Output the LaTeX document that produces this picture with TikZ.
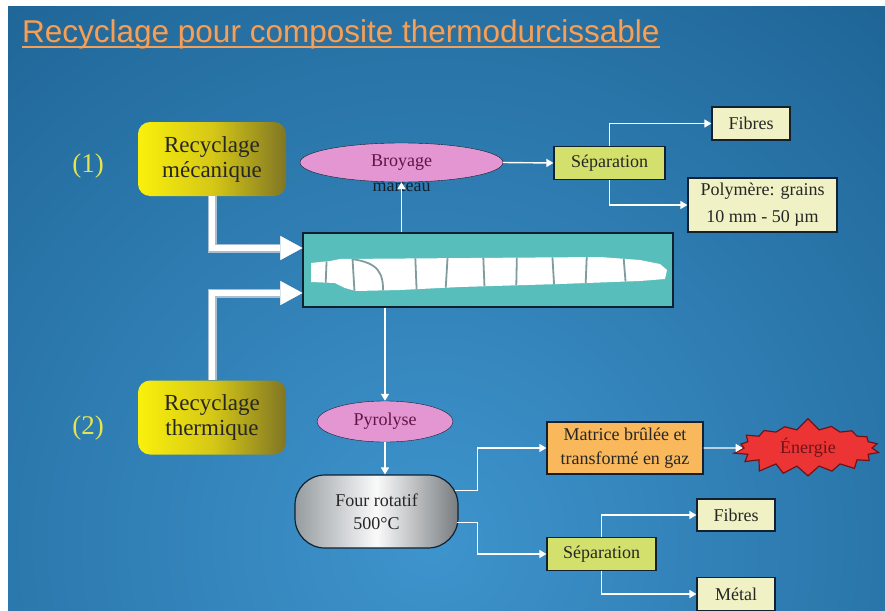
\documentclass[tikz,border=0pt]{standalone}
\usepackage{fontspec}
\setmainfont{Liberation Serif}
\newfontfamily\titlefont{Liberation Sans}
\usetikzlibrary{shapes.geometric,shapes.symbols,arrows.meta}

\definecolor{slide}{RGB}{22,88,135}
\definecolor{slidelight}{RGB}{62,148,205}
\definecolor{titleor}{RGB}{244,160,88}
\definecolor{numyel}{RGB}{228,228,78}
\definecolor{edge}{RGB}{18,32,48}
\definecolor{recyyel}{RGB}{250,240,12}
\definecolor{recymid}{RGB}{214,200,22}
\definecolor{recyolive}{RGB}{128,118,36}
\definecolor{lavpink}{RGB}{228,150,210}
\definecolor{plum}{RGB}{95,20,70}
\definecolor{bladebg}{RGB}{88,190,188}
\definecolor{cutgray}{RGB}{128,156,158}
\definecolor{sepgreen}{RGB}{212,224,108}
\definecolor{prodcream}{RGB}{240,241,196}
\definecolor{matorange}{RGB}{250,184,92}
\definecolor{burst}{RGB}{236,52,52}
\definecolor{burstedge}{RGB}{110,20,25}
\definecolor{fatedge}{RGB}{170,190,210}
\definecolor{steel}{RGB}{150,156,160}

\begin{document}
\begin{tikzpicture}[x=1pt, y=-1pt,
  font=\fontsize{18}{22}\selectfont,
  recy/.style={rounded corners=12pt, left color=recyyel, right color=recyolive,
    middle color=recymid, minimum width=148pt, minimum height=74pt,
    align=center, text=black!85, font=\fontsize{23}{25}\selectfont},
  proc/.style={ellipse, draw=edge, fill=lavpink, text=plum, inner sep=0pt},
  sepbox/.style={draw=edge, line width=1.2pt, fill=sepgreen, text=black!85,
    minimum height=33pt},
  prod/.style={draw=edge, line width=1.2pt, fill=prodcream, text=black!85,
    align=center},
  flow/.style={draw=white, line width=1.4pt, -{Triangle[length=7pt,width=8pt]}},
  fatline/.style={draw=fatedge, line width=9pt,
    -{Triangle[length=22pt,width=24pt,line width=0.1pt]}},
  fatcore/.style={draw=white, line width=5.5pt,
    -{Triangle[length=22pt,width=24pt,line width=0.1pt]}}]
  \useasboundingbox (0,0) rectangle (885,610);

  % Slide background
  \fill[white] (0,0) rectangle (885,610);
  \fill[slide] (8,7) rectangle (885,610);
  \begin{scope}
    \clip (8,7) rectangle (885,610);
    \shade[inner color=slidelight, outer color=slide] (430,540) circle (900pt);
  \end{scope}

  % Title
  \node[anchor=base west, inner sep=0pt, text=black!60, opacity=0.5,
    font=\titlefont\fontsize{31.5}{36}\selectfont] at (23.5,43.5)
    {Recyclage pour composite thermodurcissable};
  \node[anchor=base west, inner sep=0pt, text=titleor,
    font=\titlefont\fontsize{31.5}{36}\selectfont] (title) at (22,42)
    {Recyclage pour composite thermodurcissable};
  \draw[titleor, line width=1.6pt] ([yshift=-5pt]title.base west) -- ([yshift=-5pt]title.base east);

  % Two recycling routes
  \node[text=numyel, font=\fontsize{27}{30}\selectfont] (n1) at (88,166) {(1)};
  \node[text=numyel, font=\fontsize{27}{30}\selectfont] (n2) at (88,428) {(2)};
  \node[recy] (meca) at (212,159) {Recyclage\\mécanique};
  \node[recy] (therm) at (212,417.5) {Recyclage\\thermique};

  % Blade box
  \node[draw=edge, line width=1.4pt, fill=bladebg, minimum width=370pt,
    minimum height=74pt] (blade) at (488,270) {};
  \begin{scope}
    \clip (311,263) -- (320,262) -- (330,261) -- (340,259) -- (600,257)
      -- (640,260) -- (660,264) -- (667,270) -- (665,279) -- (640,281)
      -- (560,284) -- (460,287) -- (400,290) -- (356,291) -- (345,288)
      -- (335,283) -- (311,282) -- cycle;
    \fill[white] (300,250) rectangle (680,300);
    \foreach \x/\d in {327/-2, 352/3, 415/2, 448/-3, 483/2, 517/-1, 552/3, 587/-2, 623/4}
      \draw[cutgray, line width=1.8pt] (\x,250) -- (\x+\d,300);
    \draw[cutgray, line width=1.8pt] (352,259) .. controls (378,263) and (384,272) .. (383,295);
  \end{scope}

  % Feed arrows into the blade
  \draw[fatline] (meca.south) |- ([yshift=22pt]blade.west);
  \draw[fatcore] (meca.south) |- ([yshift=22pt]blade.west);
  \draw[fatline] (therm.north) |- ([yshift=-23pt]blade.west);
  \draw[fatcore] (therm.north) |- ([yshift=-23pt]blade.west);

  % Mechanical route
  \node[text=edge] (mart) at (401.5,187) {marteau};
  \node[proc, minimum width=203pt, minimum height=39pt] (broy) at (401.5,162.5) {Broyage};
  \draw[flow] (blade.north -| broy.south) -- (broy.south);
  \node[sepbox, minimum width=111pt] (sep1) at (609.5,163) {Séparation};
  \node[prod, minimum width=78pt, minimum height=33pt] (fib1) at (751,123.5) {Fibres};
  \node[prod, minimum width=149pt, minimum height=54pt,
    font=\fontsize{18}{27}\selectfont] (poly) at (762.5,205) {Polymère: grains\\10 mm - 50 µm};
  \draw[flow] (broy.east) -- (sep1.west);
  \draw[flow] (sep1.north) |- (fib1.west);
  \draw[flow] (sep1.south) |- (poly.west);

  % Thermal route
  \node[proc, minimum width=136pt, minimum height=41pt] (pyro) at (385,421.5) {Pyrolyse};
  \node[draw=edge, line width=1.2pt, rounded corners=30pt, left color=steel,
    right color=steel!80!black, middle color=white!96!gray, minimum width=163pt,
    minimum height=73pt, align=center, text=black!85,
    font=\fontsize{18}{23}\selectfont] (four) at (376.5,511.5) {Four rotatif\\500°C};
  \draw[flow] (blade.south -| pyro.north) -- (pyro.north);
  \draw[flow] (pyro.south) -- (pyro.south |- four.north);

  \node[draw=edge, line width=1.2pt, fill=matorange, minimum width=156pt,
    minimum height=52pt, align=center, text=black!85,
    font=\fontsize{18}{24}\selectfont] (mat) at (625,448) {Matrice brûlée et\\transformé en gaz};
  \node[starburst, fill=burst, draw=burstedge, line width=1.2pt, text=burstedge,
    starburst points=18, starburst point height=12pt, random starburst=7,
    minimum width=152pt, minimum height=54pt] (nrg) at (808,448) {Énergie};
  \node[sepbox, minimum width=109pt] (sep2) at (601.5,554) {Séparation};
  \node[prod, minimum width=78pt, minimum height=32pt] (fib2) at (736,515) {Fibres};
  \node[prod, minimum width=78pt, minimum height=33pt] (met) at (736,594) {Métal};

  \draw[flow] ([shift={(-4pt,21pt)}]four.east) -- ([shift={(19pt,21pt)}]four.east) |- (mat.west);
  \draw[flow] ([shift={(-2pt,-11pt)}]four.east) -- ([shift={(19pt,-11pt)}]four.east) |- (sep2.west);
  \draw[flow] (mat.east) -- (nrg.west);
  \draw[flow] (sep2.north) |- (fib2.west);
  \draw[flow] (sep2.south) |- (met.west);
\end{tikzpicture}
\end{document}
